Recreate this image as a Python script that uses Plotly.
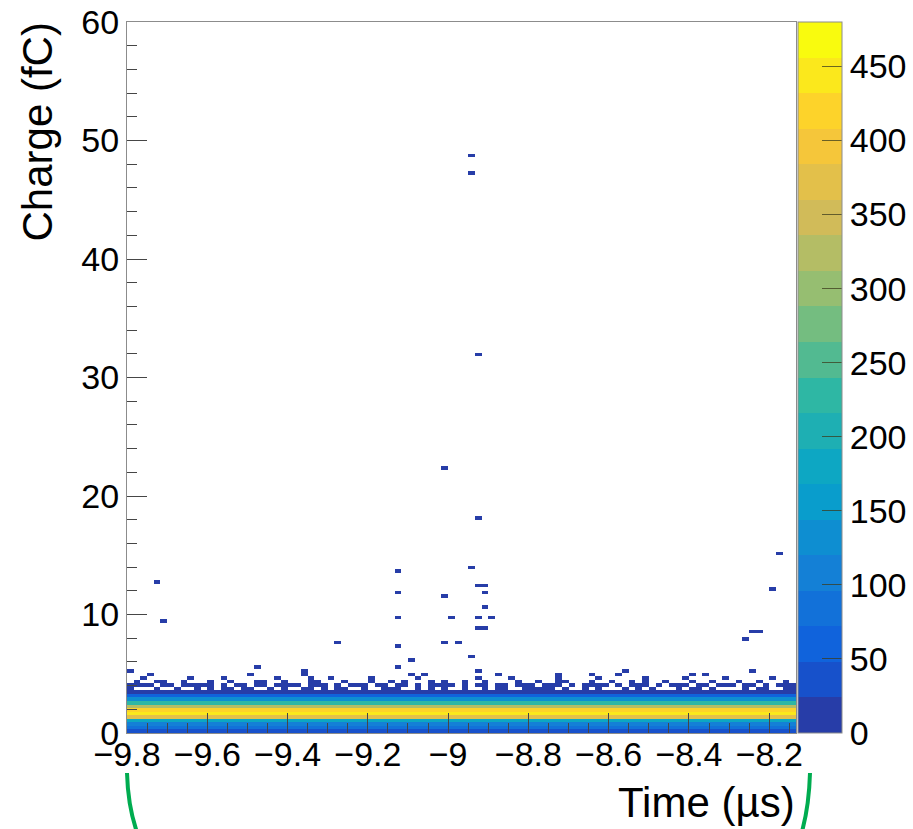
import numpy as np
import plotly.graph_objects as go

# ---------------- data ----------------
x_min, x_max, n_xbins = -9.8, -8.1333, 100      # Time (µs)
y_min, y_max, n_ybins = 0.0, 60.0, 200          # Charge (fC), 0.3 fC bins

# mean counts per charge row (rows 0..11, 0.3 fC each) in the dense band
band_profile = [45, 80, 110, 190, 370, 440, 425, 330, 220, 120, 50, 15]

# occupancy of the ragged upper edge of the band ('#' filled, '.' empty), rows 12..17
edge_rows = {
    12: ("#...#..#..", "#.#.##.##.", ".#.#..##.#", ".##..#..##", "#..#.#.#..",
         "#..#.##..#", "####.#..#.", "#...#.#.#.", "..#.##.#..", "..#.##..##"),
    13: ("####.##.##", "###.#.##.#", "#.####.###", ".#.###.##.", "##.#.####.",
         "#.##.##.##", "#.###.#.##", "##.#.###.#", ".###.##.##", "#.##.#.###"),
    14: (".#..##..#.", "..#..#...#", "#..#...##.", "..#...#..#", ".#...#.#..",
         "#..#....#.", ".#..##...#", "..#..#.#..", "#...#..#..", ".#..#...#."),
    15: ("..#......#", "....#.....", "..#....#..", "#.....#...", "...#......",
         "..#....#..", "....#.....", "#......#..", "...#.....#", "......#..."),
    16: ("...#......", "........#.", "......#...", "..........", "..#.......",
         ".....#....", ".........#", "...#......", "......#...", ".........."),
    17: ("#.........", "..........", "......#...", "..........", "..........",
         "..#.......", "..........", "....#.....", "..........", "...#......"),
}
edge_counts = {12: 2, 13: 1, 14: 1, 15: 1, 16: 1, 17: 1}

# isolated entries far from the band: time (µs), charge (fC)
outlier_t = [-9.730, -9.708, -8.936, -8.944, -8.931, -9.006, -8.931, -8.944, -9.131,
             -8.931, -8.906, -8.906, -9.119, -9.004, -8.906, -9.131, -8.994, -8.931,
             -8.894, -8.925, -8.910, -9.131, -9.004, -8.969, -9.268, -8.941, -9.480,
             -9.094, -9.119, -8.180, -8.192, -8.245, -8.228, -8.220, -8.252, -9.056,
             -8.395, -8.719]
outlier_q = [12.66, 9.45, 48.6, 47.1, 31.9, 22.3, 18.2, 14.0, 13.5,
             12.4, 12.4, 11.9, 11.9, 11.6, 10.5, 9.8, 9.6, 9.8,
             9.8, 8.7, 8.7, 7.3, 7.5, 7.7, 7.7, 6.4, 5.5,
             6.2, 5.6, 15.1, 12.2, 8.6, 8.6, 8.4, 7.85, 5.06,
             4.9, 5.06]

x_ticks = [-9.8, -9.6, -9.4, -9.2, -9.0, -8.8, -8.6, -8.4, -8.2]
y_ticks = [0, 10, 20, 30, 40, 50, 60]
z_ticks = [0, 50, 100, 150, 200, 250, 300, 350, 400, 450]
z_max = 480
n_contours = 20

# ---------------- build histogram ----------------
dx = (x_max - x_min) / n_xbins
dy = (y_max - y_min) / n_ybins
x_centers = [x_min + (i + 0.5) * dx for i in range(n_xbins)]
y_centers = [y_min + (j + 0.5) * dy for j in range(n_ybins)]
counts = np.zeros((n_ybins, n_xbins))
for j, v in enumerate(band_profile):
    counts[j, :] = v
for j, parts in edge_rows.items():
    s = "".join(parts).ljust(n_xbins, ".")[:n_xbins]
    for i, ch in enumerate(s):
        if ch == "#":
            counts[j, i] += edge_counts[j]
for t, q in zip(outlier_t, outlier_q):
    i = int((t - x_min) / dx)
    j = int((q - y_min) / dy)
    if 0 <= i < n_xbins and 0 <= j < n_ybins:
        counts[j, i] += 1
z = [[(float(v) if v > 0 else None) for v in row] for row in counts]

# ---------------- ROOT kBird palette, 20 contour bands ----------------
st = [0.0, 0.125, 0.25, 0.375, 0.5, 0.625, 0.75, 0.875, 1.0]
rr = [0.2082, 0.0592, 0.0780, 0.0232, 0.1802, 0.5301, 0.8186, 0.9956, 0.9764]
gg = [0.1664, 0.3599, 0.5041, 0.6419, 0.7178, 0.7492, 0.7328, 0.7862, 0.9832]
bb = [0.5293, 0.8684, 0.8385, 0.7914, 0.6425, 0.4662, 0.3499, 0.1968, 0.0539]


def bird(f):
    return "rgb(%d,%d,%d)" % tuple(int(round(255 * np.interp(f, st, c))) for c in (rr, gg, bb))


colorscale = []
for k in range(n_contours):
    f = int((k + 0.99) * 255 / n_contours) / 254.0
    c = bird(min(f, 1.0))
    colorscale.append([k / n_contours, c])
    colorscale.append([(k + 1) / n_contours, c])

FONT = "Liberation Sans, Arial, Helvetica, sans-serif"
TICKC = "rgb(70,70,70)"
LINEC = "rgb(140,140,140)"

W, H = 913, 829
L, R, T, B = 127, 117, 22, 96
pw, ph = W - L - R, H - T - B


def px(x):
    return (x - L) / pw


def py(y):
    return (H - B - y) / ph


fig = go.Figure(go.Heatmap(
    x=x_centers, y=y_centers, z=z,
    zmin=0, zmax=z_max, colorscale=colorscale, zsmooth=False,
    hoverongaps=False,
    colorbar=dict(
        x=px(798), xanchor="left", xref="paper",
        y=0.5, yanchor="middle", len=1.0, lenmode="fraction",
        thickness=44, thicknessmode="pixels", xpad=0, ypad=0,
        outlinewidth=1, outlinecolor=LINEC,
        tickmode="array", tickvals=z_ticks, ticktext=[str(v) for v in z_ticks],
        ticks="inside", ticklen=20, tickwidth=1, tickcolor="rgba(60,60,30,0.75)",
        tickfont=dict(family=FONT, size=34, color="black"),
    ),
))

fig.update_layout(
    width=W, height=H, autosize=False,
    margin=dict(l=L, r=R, t=T, b=B, pad=0, autoexpand=False),
    paper_bgcolor="white", plot_bgcolor="white",
    font=dict(family=FONT, color="black"),
    showlegend=False,
    xaxis=dict(
        range=[x_min, x_max], tickmode="array", tickvals=x_ticks,
        ticktext=[("\u2212%.1f" % abs(v)).replace(".0", "") if v < 0 else "%g" % v for v in x_ticks],
        ticks="inside", ticklen=20, tickwidth=1, tickcolor=TICKC,
        minor=dict(dtick=0.05, tick0=-9.8, ticks="inside", ticklen=10, tickwidth=1,
                   tickcolor=TICKC, showgrid=False),
        showline=True, linecolor=LINEC, linewidth=1, mirror=True,
        showgrid=False, zeroline=False, automargin=False,
        ticklabelstandoff=-9,
        tickfont=dict(family=FONT, size=34, color="black"),
    ),
    yaxis=dict(
        range=[y_min, y_max], tickmode="array", tickvals=y_ticks,
        ticks="inside", ticklen=20, tickwidth=1, tickcolor=TICKC,
        minor=dict(dtick=2, tick0=0, ticks="inside", ticklen=10, tickwidth=1,
                   tickcolor=TICKC, showgrid=False),
        showline=True, linecolor=LINEC, linewidth=1, mirror=True,
        showgrid=False, zeroline=False, automargin=False,
        tickfont=dict(family=FONT, size=34, color="black"),
    ),
    annotations=[
        dict(text="Time (\u00b5s)", xref="paper", yref="paper", x=1.0, xanchor="right",
             y=py(802), yanchor="middle", showarrow=False, borderpad=0,
             font=dict(family=FONT, size=42, color="black")),
        dict(text="Charge (fC)", xref="paper", yref="paper", x=px(37), xanchor="center",
             y=1.0, yanchor="top", textangle=-90, showarrow=False, borderpad=0,
             font=dict(family=FONT, size=42, color="black")),
    ],
    shapes=[
        dict(type="path", xref="paper", yref="paper",
             path="M %f,%f Q %f,%f %f,%f" % (px(127), py(773), px(128), py(808), px(138), py(835)),
             line=dict(color="rgb(0,172,80)", width=4)),
        dict(type="path", xref="paper", yref="paper",
             path="M %f,%f Q %f,%f %f,%f" % (px(810), py(773), px(809), py(808), px(801), py(835)),
             line=dict(color="rgb(0,172,80)", width=4)),
    ],
)

fig.write_html("out.html")
